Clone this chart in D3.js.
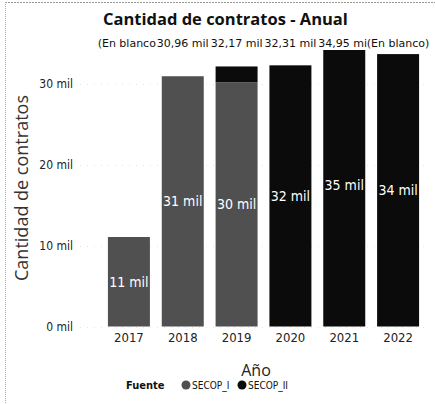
<!DOCTYPE html>
<html>
<head>
<meta charset="utf-8">
<script src="https://cdn.jsdelivr.net/npm/d3@7"></script>
<style>
  body { margin: 0; background: #fff; }
  svg { display: block; }
</style>
</head>
<body>
<div id="chart"></div>
<script>
// values (contratos)
var years = ["2017", "2018", "2019", "2020", "2021", "2022"];
var secopI = [11070, 30960, 30200, 0, 0, 0];
var secopII = [0, 0, 1970, 32310, 34950, 33700];
var topLabels = ["(En blanco)", "30,96 mil", "32,17 mil", "32,31 mil", "34,95 mil", "(En blanco)"];
var yTicks = [0, 10000, 20000, 30000];
var seriesNames = ["SECOP_I", "SECOP_II"];
var seriesColors = ["#505050", "#0b0b0b"];

var width = 435, height = 404;
var condensed = "'DejaVu Sans Condensed', sans-serif";

var svg = d3.select("#chart").append("svg")
    .attr("width", width)
    .attr("height", height);

// scanned border (top and left only)
svg.append("line")
    .attr("x1", 5).attr("x2", width).attr("y1", 2.5).attr("y2", 2.5)
    .style("stroke", "#999").style("stroke-dasharray", "2,1");
svg.append("line")
    .attr("x1", 5.5).attr("x2", 5.5).attr("y1", 2).attr("y2", height)
    .style("stroke", "#aaa").style("stroke-dasharray", "1,1");

var x = d3.scaleBand().domain(years).range([102, 425]).paddingInner(0.22).paddingOuter(0.11);
var y = d3.scaleLinear().domain([0, 36000]).range([326.5, 35.5]);

// gridlines
svg.append("g").selectAll("line")
    .data(yTicks).enter().append("line")
    .attr("x1", 80).attr("x2", 430)
    .attr("y1", function(d){ return Math.round(y(d)) + 0.5; })
    .attr("y2", function(d){ return Math.round(y(d)) + 0.5; })
    .style("stroke", "#e4e4e4").style("stroke-dasharray", "1,6");

// y axis
var yAxis = d3.axisLeft(y).tickValues(yTicks).tickSize(0).tickPadding(0)
    .tickFormat(function(d){ return (d / 1000) + " mil"; });
var gy = svg.append("g").attr("transform", "translate(73,0)").call(yAxis);
gy.select(".domain").remove();
gy.selectAll("text")
    .style("font-family", condensed)
    .style("font-size", "12px").style("fill", "#222");

// x axis
var xAxis = d3.axisBottom(x).tickSize(0).tickPadding(0);
var gx = svg.append("g").attr("transform", "translate(0,333)").call(xAxis);
gx.select(".domain").remove();
gx.selectAll("text")
    .style("font-family", condensed)
    .style("font-size", "13px").style("fill", "#222");

// stacked bars
var rows = years.map(function(yr, i){ return { year: yr, SECOP_I: secopI[i], SECOP_II: secopII[i] }; });
var stack = d3.stack().keys(seriesNames)(rows);

svg.append("g").selectAll("g")
    .data(stack).enter().append("g")
    .style("fill", function(d, i){ return seriesColors[i]; })
    .selectAll("rect")
    .data(function(d){ return d; }).enter().append("rect")
    .attr("x", function(d){ return x(d.data.year); })
    .attr("width", x.bandwidth())
    .attr("y", function(d){ return y(d[1]); })
    .attr("height", function(d){ return y(d[0]) - y(d[1]); });

// labels inside segments
var segLabels = [];
stack.forEach(function(s){
  s.forEach(function(d){
    var v = d[1] - d[0];
    if (v > 5000) segLabels.push({ year: d.data.year, v: v, mid: (d[0] + d[1]) / 2 });
  });
});
svg.append("g").selectAll("text")
    .data(segLabels).enter().append("text")
    .attr("x", function(d){ return x(d.year) + x.bandwidth() / 2; })
    .attr("y", function(d){ return y(d.mid); })
    .attr("dy", "0.35em")
    .attr("text-anchor", "middle")
    .style("font-family", condensed)
    .style("font-size", "14px").style("fill", "#fff")
    .text(function(d){ return Math.round(d.v / 1000) + " mil"; });

// total labels row: each centred on its bar, the next one covers the previous
var tl = svg.append("g").selectAll("g")
    .data(topLabels).enter().append("g")
    .attr("transform", function(d, i){ return "translate(" + (x(years[i]) + x.bandwidth() / 2) + ",47)"; });
tl.append("rect").attr("class", "bg").style("fill", "#fff");
tl.append("text")
    .attr("text-anchor", "middle")
    .style("font-family", "'DejaVu Sans', sans-serif")
    .style("font-size", "11px").style("fill", "#111")
    .text(function(d){ return d; });
tl.each(function(){
  var g = d3.select(this);
  var b = g.select("text").node().getBBox();
  g.select("rect").attr("x", b.x).attr("y", b.y).attr("width", b.width).attr("height", b.height);
});

// title
svg.append("text")
    .attr("x", 103).attr("y", 25)
    .style("font-family", "'Open Sans', sans-serif")
    .style("font-weight", "bold")
    .style("font-size", "16.5px").style("fill", "#111")
    .text("Cantidad de contratos - Anual");

// axis titles
svg.append("text")
    .attr("transform", "translate(28,188) rotate(-90)")
    .attr("text-anchor", "middle")
    .style("font-family", "'Open Sans', sans-serif")
    .style("font-size", "18px").style("fill", "#333")
    .text("Cantidad de contratos");

svg.append("text")
    .attr("x", 256).attr("y", 376)
    .attr("text-anchor", "middle")
    .style("font-family", "'Open Sans', sans-serif")
    .style("font-size", "16px").style("fill", "#222")
    .text("Año");

// legend
var legend = svg.append("g").attr("transform", "translate(126,389)");
legend.append("text")
    .style("font-family", condensed)
    .style("font-weight", "bold")
    .style("font-size", "11px").style("fill", "#111")
    .text("Fuente");
var items = legend.selectAll(".item")
    .data(seriesNames).enter().append("g")
    .attr("class", "item")
    .attr("transform", function(d, i){ return "translate(" + (60 + i * 56) + ",0)"; });
items.append("circle")
    .attr("cx", 0).attr("cy", -4).attr("r", 4.5)
    .style("fill", function(d, i){ return seriesColors[i]; });
items.append("text")
    .attr("x", 6)
    .style("font-family", condensed)
    .style("font-size", "10px").style("fill", "#111")
    .text(function(d){ return d; });
</script>
</body>
</html>
